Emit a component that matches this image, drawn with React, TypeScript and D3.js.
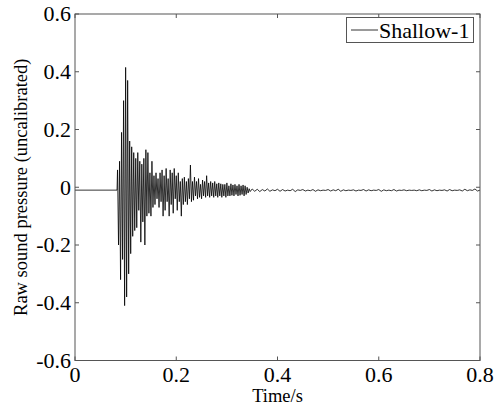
import React, { useEffect, useRef } from "react";
import * as d3 from "d3";

// quiet lead-in before the arrival (s, value)
const leadTimes = [0, 0.083];
const leadValues = [-0.01, -0.01];

// main burst, sampled every 2 ms from 0.084 s
const burstStart = 0.084;
const burstStep = 0.002;
const burstValues = [
  0.06, -0.2, 0.09, -0.32, 0.19, -0.25, 0.3, -0.41, 0.415, -0.38,
  0.37, -0.3, 0.16, -0.23, 0.14, -0.17, 0.12, -0.15, 0.1, -0.14,
  0.12, -0.08, 0.09, -0.19, 0.08, -0.12, 0.1, -0.2, 0.13, -0.1,
  0.12, -0.09, 0.05, -0.1, 0.09, -0.07, 0.04, -0.06, 0.05, -0.04,
  0.03, -0.07, 0.05, -0.05, 0.06, -0.1, 0.04, -0.08, 0.065, -0.05,
  0.03, -0.1, 0.06, -0.06, 0.05, -0.09, 0.065, -0.04, 0.04, -0.08,
  0.05, -0.05, 0.02, -0.1, 0.03, -0.06, 0.035, -0.05, 0.02, -0.06,
  0.03, -0.04, 0.077, -0.05, 0.02, -0.045, 0.035, -0.03, 0.02, -0.04,
  0.03, -0.035, 0.01, -0.04, 0.025, -0.03, 0.02, -0.035, 0.04, -0.03,
  0.015, -0.035, 0.02, -0.03, 0.015, -0.035, 0.02, -0.03, 0.012, -0.035,
  0.015, -0.03, 0.012, -0.035, 0.01, -0.03, 0.01, -0.035, 0.015, -0.03,
  0.005, -0.03, 0.012, -0.028, 0.008, -0.03, 0.01, -0.025, 0.005, -0.03,
  0.01, -0.028, 0.005, -0.025, 0.008, -0.03, 0.005, -0.025, 0.0, -0.02,
  -0.005, -0.015,
];

// low-level tail, sampled every 5 ms from 0.35 s
const tailStart = 0.35;
const tailStep = 0.005;
const tailValues = [
  -0.006, -0.014, -0.007, -0.015, -0.008, -0.013, -0.006, -0.014, -0.009, -0.012,
  -0.007, -0.014, -0.008, -0.013, -0.01, -0.012, -0.007, -0.015, -0.009, -0.011,
  -0.008, -0.013, -0.01, -0.012, -0.008, -0.014, -0.009, -0.012, -0.01, -0.011,
  -0.008, -0.013, -0.009, -0.012, -0.007, -0.014, -0.009, -0.012, -0.01, -0.011,
  -0.009, -0.013, -0.01, -0.011, -0.008, -0.013, -0.009, -0.012, -0.01, -0.011,
  -0.008, -0.014, -0.009, -0.012, -0.01, -0.012, -0.008, -0.013, -0.01, -0.011,
  -0.009, -0.012, -0.01, -0.011, -0.01, -0.012, -0.009, -0.012, -0.01, -0.011,
  -0.008, -0.013, -0.009, -0.012, -0.01, -0.011, -0.009, -0.013, -0.008, -0.012,
  -0.01, -0.011, -0.009, -0.013, -0.007, -0.012, -0.009, -0.011, -0.006, -0.013,
  -0.01,
];

const xTicks = [0, 0.2, 0.4, 0.6, 0.8];
const yTicks = [-0.6, -0.4, -0.2, 0, 0.2, 0.4, 0.6];
const seriesName = "Shallow-1";

const W = 498;
const H = 404;
const m = { left: 75, right: 18, top: 14, bottom: 43.5 };
const FONT = "'Liberation Serif', 'Times New Roman', serif";

const tickText = (d: number) => (d === 0 ? "0" : d.toFixed(1));

export default function App() {
  const ref = useRef<SVGSVGElement>(null);

  useEffect(() => {
    const svg = d3.select(ref.current);
    svg.selectAll("*").remove();

    const x = d3.scaleLinear().domain([0, 0.8]).range([m.left, W - m.right]);
    const y = d3.scaleLinear().domain([-0.6, 0.6]).range([H - m.bottom, m.top]);

    const pts: [number, number][] = [];
    leadTimes.forEach((t, i) => pts.push([t, leadValues[i]]));
    burstValues.forEach((v, i) => pts.push([burstStart + i * burstStep, v]));
    tailValues.forEach((v, i) => pts.push([tailStart + i * tailStep, v]));

    const line = d3
      .line<[number, number]>()
      .x(d => x(d[0]))
      .y(d => y(d[1]));

    svg
      .append("path")
      .datum(pts)
      .attr("d", line)
      .attr("fill", "none")
      .attr("stroke", "#000")
      .attr("stroke-width", 0.8);

    const x0 = m.left, x1 = W - m.right, y0 = H - m.bottom, y1 = m.top;
    const axisColor = "#555";
    const tl = 4;

    // box
    svg
      .append("rect")
      .attr("x", x0)
      .attr("y", y1)
      .attr("width", x1 - x0)
      .attr("height", y0 - y1)
      .attr("fill", "none")
      .attr("stroke", axisColor)
      .attr("stroke-width", 1);

    const ticks = svg.append("g").attr("stroke", axisColor).attr("stroke-width", 1);
    xTicks.forEach(t => {
      ticks.append("line").attr("x1", x(t)).attr("x2", x(t)).attr("y1", y0).attr("y2", y0 - tl);
      ticks.append("line").attr("x1", x(t)).attr("x2", x(t)).attr("y1", y1).attr("y2", y1 + tl);
    });
    yTicks.forEach(t => {
      ticks.append("line").attr("x1", x0).attr("x2", x0 + tl).attr("y1", y(t)).attr("y2", y(t));
      ticks.append("line").attr("x1", x1).attr("x2", x1 - tl).attr("y1", y(t)).attr("y2", y(t));
    });

    svg
      .append("g")
      .selectAll("text")
      .data(xTicks)
      .enter()
      .append("text")
      .attr("x", d => x(d))
      .attr("y", 382)
      .attr("text-anchor", "middle")
      .attr("font-family", FONT)
      .attr("font-size", 22)
      .text(tickText);

    svg
      .append("g")
      .selectAll("text")
      .data(yTicks)
      .enter()
      .append("text")
      .attr("x", x0 - 4)
      .attr("y", d => y(d))
      .attr("dy", "0.33em")
      .attr("text-anchor", "end")
      .attr("font-family", FONT)
      .attr("font-size", 22)
      .text(tickText);

    svg
      .append("text")
      .attr("x", (x0 + x1) / 2)
      .attr("y", 401.5)
      .attr("text-anchor", "middle")
      .attr("font-family", FONT)
      .attr("font-size", 18.5)
      .text("Time/s");

    svg
      .append("text")
      .attr("transform", `translate(${27},${(y0 + y1) / 2}) rotate(-90)`)
      .attr("text-anchor", "middle")
      .attr("font-family", FONT)
      .attr("font-size", 18.5)
      .text("Raw sound pressure (uncalibrated)");

    // legend
    const lg = svg.append("g");
    lg.append("rect")
      .attr("x", 346.5)
      .attr("y", 17.5)
      .attr("width", 127)
      .attr("height", 25)
      .attr("fill", "#fff")
      .attr("stroke", axisColor);
    lg.append("line")
      .attr("x1", 351)
      .attr("x2", 378)
      .attr("y1", 30)
      .attr("y2", 30)
      .attr("stroke", "#000")
      .attr("stroke-width", 0.8);
    lg.append("text")
      .attr("x", 379)
      .attr("y", 37.5)
      .attr("font-family", FONT)
      .attr("font-size", 22)
      .text(seriesName);
  }, []);

  return (
    <svg
      ref={ref}
      width={W}
      height={H}
      style={{ position: "absolute", left: 0, top: 0, background: "#fff" }}
    />
  );
}
